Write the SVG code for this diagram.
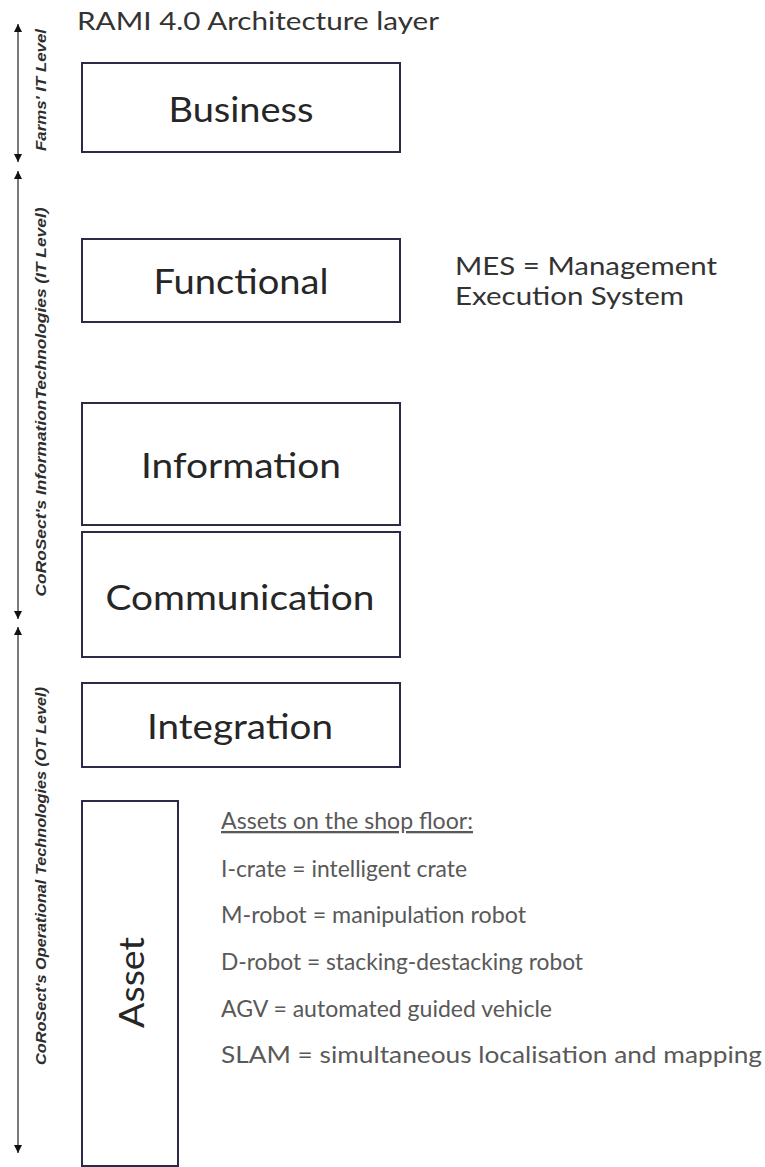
<svg xmlns="http://www.w3.org/2000/svg" width="765" height="1167" viewBox="0 0 765 1167">
<style>
.box{fill:#ffffff;stroke:#2b2b47;stroke-width:2}
.lbl{font-family:Lato,"Open Sans",sans-serif;font-size:35px;fill:#262626;text-anchor:middle}
.note{font-family:Lato,"Open Sans",sans-serif;font-size:24.5px;fill:#333333}
.list{font-family:Lato,"Open Sans",sans-serif;font-size:23px;fill:#595959}
.side{font-family:"Liberation Sans",Arial,sans-serif;font-size:15px;font-style:italic;font-weight:bold;fill:#2e2e2e;text-anchor:middle}
.axis{stroke:#7a7a7a;stroke-width:2;fill:none;marker-start:url(#ah);marker-end:url(#ah)}
</style>
<defs>
<marker id="ah" viewBox="0 0 10 10" refX="10" refY="5" markerUnits="userSpaceOnUse" markerWidth="8" markerHeight="8" orient="auto-start-reverse">
<path d="M0,0 L10,5 L0,10 z" fill="#111111"/>
</marker>
</defs>
<rect width="765" height="1167" fill="#ffffff"/>
<text id="title" class="note" x="77" y="30" font-size="27.5" textLength="362" lengthAdjust="spacingAndGlyphs">RAMI 4.0 Architecture layer</text>
<g id="connectors">
<line class="axis" x1="18" y1="24" x2="18" y2="162"/>
<line class="axis" x1="18" y1="171" x2="18" y2="619"/>
<line class="axis" x1="18" y1="627" x2="18" y2="1153"/>
</g>
<g id="axis-labels">
<text class="side" transform="translate(46,90) rotate(-90)" textLength="122" lengthAdjust="spacingAndGlyphs">Farms' IT Level</text>
<text class="side" transform="translate(46,402) rotate(-90)" textLength="389" lengthAdjust="spacingAndGlyphs">CoRoSect's InformationTechnologies (IT Level)</text>
<text class="side" transform="translate(46,876) rotate(-90)" textLength="378" lengthAdjust="spacingAndGlyphs">CoRoSect's Operational Technologies (OT Level)</text>
</g>
<g id="business">
<rect class="box" x="82" y="63" width="318" height="89"/>
<text class="lbl" x="241" y="122" textLength="145" lengthAdjust="spacingAndGlyphs">Business</text>
</g>
<g id="functional">
<rect class="box" x="82" y="239" width="318" height="83"/>
<text class="lbl" x="241" y="294" textLength="175" lengthAdjust="spacingAndGlyphs">Functional</text>
</g>
<g id="mes-note">
<text class="note" x="455" y="275" textLength="262" lengthAdjust="spacingAndGlyphs">MES = Management</text>
<text class="note" x="455" y="305" textLength="229" lengthAdjust="spacingAndGlyphs">Execution System</text>
</g>
<g id="information">
<rect class="box" x="82" y="403" width="318" height="122"/>
<text class="lbl" x="241" y="478" textLength="200" lengthAdjust="spacingAndGlyphs">Information</text>
</g>
<g id="communication">
<rect class="box" x="82" y="532" width="318" height="125"/>
<text class="lbl" x="240" y="610" textLength="269" lengthAdjust="spacingAndGlyphs">Communication</text>
</g>
<g id="integration">
<rect class="box" x="82" y="683" width="318" height="84"/>
<text class="lbl" x="240" y="739" textLength="186" lengthAdjust="spacingAndGlyphs">Integration</text>
</g>
<g id="asset">
<rect class="box" x="82" y="801" width="96" height="365"/>
<text class="lbl" transform="translate(144,982.5) rotate(-90)" textLength="91" lengthAdjust="spacingAndGlyphs">Asset</text>
</g>
<g id="asset-legend">
<text class="list" x="221" y="829" text-decoration="underline" textLength="252" lengthAdjust="spacingAndGlyphs">Assets on the shop floor:</text>
<text class="list" x="221" y="876.5" textLength="246" lengthAdjust="spacingAndGlyphs">I-crate = intelligent crate</text>
<text class="list" x="221" y="923" textLength="305" lengthAdjust="spacingAndGlyphs">M-robot = manipulation robot</text>
<text class="list" x="221" y="970" textLength="362" lengthAdjust="spacingAndGlyphs">D-robot = stacking-destacking robot</text>
<text class="list" x="221" y="1016.5" textLength="331" lengthAdjust="spacingAndGlyphs">AGV = automated guided vehicle</text>
<text class="list" x="221" y="1063" textLength="541" lengthAdjust="spacingAndGlyphs">SLAM = simultaneous localisation and mapping</text>
</g>
</svg>
